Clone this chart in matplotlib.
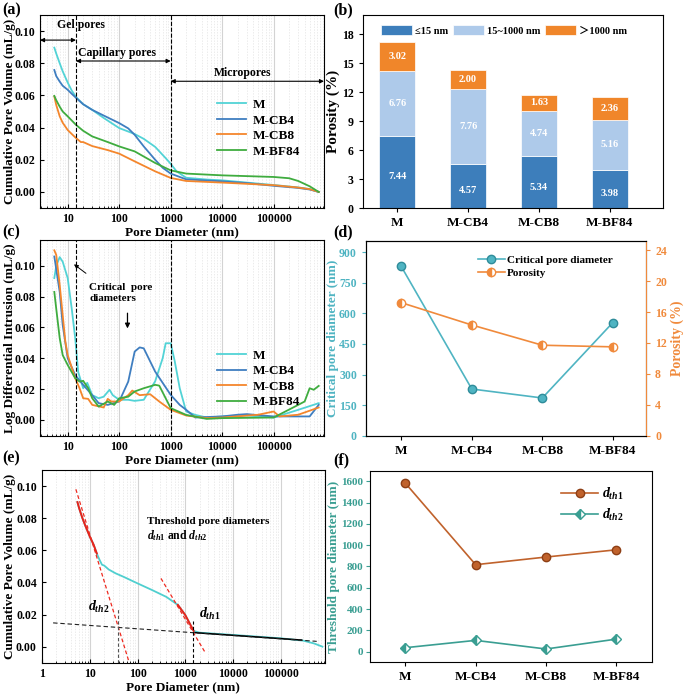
import numpy as np
import matplotlib.pyplot as plt
from matplotlib.ticker import FixedLocator, LogLocator, NullFormatter

plt.rcParams['font.family'] = ['Liberation Serif', 'Noto Sans CJK SC']
plt.rcParams['font.weight'] = 'bold'
plt.rcParams['axes.labelweight'] = 'bold'
plt.rcParams['mathtext.fontset'] = 'custom'
plt.rcParams['mathtext.it'] = 'Liberation Serif:italic:bold'
plt.rcParams['mathtext.rm'] = 'Liberation Serif:bold'
plt.rcParams['mathtext.bf'] = 'Liberation Serif:bold'

samples = ['M', 'M-CB4', 'M-CB8', 'M-BF84']

# (a) cumulative pore volume, mL/g
a_M_x = [5.5, 6, 7, 8, 10, 12, 14.5, 20, 30, 50, 100, 200, 300, 500, 800, 1000, 1300, 2000,
         5000, 10000, 30000, 100000, 300000, 500000, 750000]
a_M_y = [0.0897, 0.086, 0.080, 0.075, 0.068, 0.063, 0.059, 0.0545, 0.051, 0.046, 0.0397, 0.036,
         0.033, 0.028, 0.021, 0.0175, 0.0128, 0.0088, 0.0077, 0.0072, 0.0058, 0.0043, 0.0028, 0.0018, 0.0]
a_CB4_x = [5.5, 6, 7, 8, 10, 12, 14.5, 20, 30, 50, 100, 150, 200, 300, 500, 700, 1000, 2000,
           10000, 30000, 100000, 300000, 500000, 750000]
a_CB4_y = [0.0758, 0.072, 0.0686, 0.066, 0.0635, 0.061, 0.0585, 0.0545, 0.051, 0.0475, 0.0428, 0.0395,
           0.0355, 0.0283, 0.020, 0.015, 0.0114, 0.0078, 0.0066, 0.0055, 0.0038, 0.0025, 0.0015, 0.0]
a_CB8_x = [5.5, 6, 7, 8, 10, 12, 14.5, 18, 20, 30, 60, 100, 200, 500, 1000, 2000, 10000, 100000,
           300000, 500000, 750000]
a_CB8_y = [0.0593, 0.054, 0.047, 0.043, 0.0385, 0.036, 0.0335, 0.031, 0.031, 0.0285, 0.026, 0.0238,
           0.019, 0.0128, 0.0087, 0.0068, 0.0058, 0.0042, 0.0027, 0.0017, 0.0]
a_BF84_x = [5.5, 6, 7, 8, 10, 14.5, 20, 30, 60, 100, 200, 500, 1000, 2000, 10000, 100000, 200000,
            300000, 500000, 750000]
a_BF84_y = [0.0597, 0.057, 0.053, 0.050, 0.047, 0.0417, 0.038, 0.0345, 0.031, 0.0283, 0.0252, 0.018,
            0.0134, 0.0114, 0.0103, 0.0093, 0.0085, 0.0068, 0.0035, 0.0]

# (b) porosity fractions, %
por_small = [7.44, 4.57, 5.34, 3.98]
por_mid = [6.76, 7.76, 4.74, 5.16]
por_large = [3.02, 2.00, 1.63, 2.36]

# (c) log differential intrusion, mL/g
c_M_x = [5.5, 6, 7, 8, 10, 12, 14, 16, 20, 24, 30, 40, 50, 65, 75, 100, 150, 200, 300, 500, 700, 800,
         1000, 1200, 1500, 2000, 3000, 5000, 10000, 30000, 100000, 300000, 750000]
c_M_y = [0.092, 0.100, 0.1056, 0.1026, 0.092, 0.072, 0.053, 0.031, 0.0205, 0.024, 0.016, 0.014, 0.015,
         0.0195, 0.016, 0.013, 0.013, 0.0123, 0.013, 0.025, 0.040, 0.0497, 0.0497, 0.038, 0.0205, 0.0054,
         0.0032, 0.0015, 0.0022, 0.0028, 0.0015, 0.0065, 0.0108]
c_CB4_x = [5.5, 7, 8, 10, 14, 20, 30, 40, 60, 100, 150, 200, 250, 300, 500, 1000, 1500, 2000, 3000,
           10000, 20000, 30000, 100000, 500000, 750000]
c_CB4_y = [0.106, 0.083, 0.0616, 0.040, 0.029, 0.0227, 0.016, 0.0108, 0.0097, 0.0119, 0.0248, 0.0443,
           0.047, 0.0464, 0.0313, 0.0162, 0.0097, 0.0065, 0.0015, 0.0022, 0.0033, 0.0037, 0.0022, 0.0022, 0.0097]
c_CB8_x = [5.5, 6, 7, 8, 9, 10, 14, 17, 20, 25, 30, 50, 60, 70, 100, 150, 180, 250, 400, 600, 1000,
           2000, 5000, 10000, 50000, 100000, 130000, 300000, 750000]
c_CB8_y = [0.110, 0.107, 0.0875, 0.068, 0.0508, 0.042, 0.027, 0.0205, 0.014, 0.0136, 0.0097, 0.008,
           0.0136, 0.0119, 0.0119, 0.016, 0.019, 0.016, 0.0166, 0.0119, 0.0065, 0.0028, 0.0011, 0.0015,
           0.0033, 0.0054, 0.0022, 0.0033, 0.008]
c_BF84_x = [5.5, 6, 7, 8, 10, 14, 17, 20, 25, 30, 40, 60, 80, 100, 150, 200, 300, 500, 600, 1000,
            2000, 5000, 10000, 100000, 300000, 400000, 500000, 600000, 750000]
c_BF84_y = [0.083, 0.072, 0.053, 0.042, 0.0356, 0.027, 0.0248, 0.0253, 0.0205, 0.014, 0.0086, 0.0119,
            0.0097, 0.014, 0.015, 0.0184, 0.0205, 0.0227, 0.0222, 0.0076, 0.0032, 0.0006, 0.0011, 0.0015,
            0.0097, 0.0119, 0.0205, 0.0195, 0.022]

# (d) critical pore diameter (nm) and total porosity (%)
crit_d = [830, 229, 185, 555]
porosity = [17.22, 14.33, 11.71, 11.50]

# (e) threshold method on sample M
e_x = [5.5, 6, 7, 8, 10, 12, 14, 16, 18, 20, 25, 35, 50, 100, 200, 400, 700, 1000, 1500, 2000,
       10000, 100000, 300000, 500000, 750000]
e_y = [0.090, 0.086, 0.080, 0.0755, 0.0685, 0.0635, 0.058, 0.054, 0.051, 0.0505, 0.048, 0.0456,
       0.0436, 0.0394, 0.0353, 0.031, 0.026, 0.0197, 0.0098, 0.0087, 0.0073, 0.0052, 0.0037, 0.002, 0.0]
e_red_ranges = [(5.0, 14.0), (650, 1500)]
e_tan1_x, e_tan1_y = [5.1, 65], [0.098, -0.0087]
e_tan2_x, e_tan2_y = [310, 2540], [0.0425, -0.003]
e_base_x, e_base_y = [1.7, 570000], [0.0148, 0.0033]
e_fit_x, e_fit_y = [1600, 275000], [0.0087, 0.0041]
dth2_M, dth1_M = 39, 1480

# (f) threshold pore diameters, nm
dth1 = [1584, 817, 889, 957]
dth2 = [37, 106, 25, 118]

c_M, c_CB4, c_CB8, c_BF84 = '#52d3d6', '#3f7ec0', '#f4862c', '#3fac3f'
W, H = 685, 696
TICK = 8.5
fig = plt.figure(figsize=(W / 100, H / 100), dpi=100)


def rect(l, t, r, b):
    return [l / W, 1 - b / H, (r - l) / W, (b - t) / H]


def log_style(ax, xlim, ticks):
    ax.set_xscale('log')
    ax.set_xlim(*xlim)
    ax.xaxis.set_major_locator(FixedLocator(ticks))
    ax.set_xticklabels([str(t) for t in ticks])
    ax.xaxis.set_minor_locator(LogLocator(base=10, subs=np.arange(2, 10), numticks=20))
    ax.xaxis.set_minor_formatter(NullFormatter())
    ax.grid(True, which='major', axis='x', color='#d3d3d3', lw=0.8)
    ax.grid(True, which='minor', axis='x', color='#e3e3e3', lw=0.5, ls=(0, (2, 2)))
    ax.tick_params(which='both', direction='in', labelsize=TICK)
    ax.tick_params(which='major', length=3)
    ax.tick_params(which='minor', length=1.5)
    ax.set_xlabel('Pore Diameter (nm)', fontsize=9.5, labelpad=1)
    ax.set_axisbelow(True)


# ---------- (a)
ax = fig.add_axes(rect(40, 15, 324, 208))
log_style(ax, (2.9, 950000), [10, 100, 1000, 10000, 100000])
ax.plot(a_M_x, a_M_y, color=c_M, lw=1.3, label='M')
ax.plot(a_CB4_x, a_CB4_y, color=c_CB4, lw=1.3, label='M-CB4')
ax.plot(a_CB8_x, a_CB8_y, color=c_CB8, lw=1.3, label='M-CB8')
ax.plot(a_BF84_x, a_BF84_y, color=c_BF84, lw=1.3, label='M-BF84')
ax.set_ylim(-0.01, 0.11)
ax.set_yticks([0, 0.02, 0.04, 0.06, 0.08, 0.10])
ax.set_ylabel('Cumulative Pore Volume (mL/g)', fontsize=9.5)
ax.yaxis.set_label_coords(-0.0845, 0.5)
for xv in [14.5, 1000]:
    ax.axvline(xv, color='k', ls='--', lw=0.8)
arw = dict(arrowstyle='<|-|>', color='k', lw=0.8, mutation_scale=6, shrinkA=0, shrinkB=0)
ax.annotate('', xy=(2.9, 0.0944), xytext=(14.5, 0.0944), arrowprops=arw)
ax.annotate('', xy=(14.5, 0.0814), xytext=(1000, 0.0814), arrowprops=arw)
ax.annotate('', xy=(1000, 0.0688), xytext=(950000, 0.0688), arrowprops=arw)
ax.text(18, 0.1035, 'Gel pores', ha='center', va='center', fontsize=8.5)
ax.text(90, 0.0865, 'Capillary pores', ha='center', va='center', fontsize=8.5)
ax.text(24500, 0.0742, 'Micropores', ha='center', va='center', fontsize=8.5)
ax.legend(loc='upper left', bbox_to_anchor=(0.6, 0.6), frameon=False, fontsize=9.5,
          handlelength=2.2, labelspacing=0.25, handletextpad=0.5, borderpad=0)
fig.text(2 / W, 1 - 10 / H, '(a)', fontsize=11.5, va='center')

# ---------- (b)
ax = fig.add_axes(rect(362.7, 14.7, 663.3, 208))
xb = np.arange(len(samples))
col_s, col_m, col_l = '#3d7ebb', '#aecaea', '#f0862a'
bot2 = np.array(por_small) + np.array(por_mid)
ax.bar(xb, por_small, 0.51, color=col_s, edgecolor='white', lw=0.5, label='≤15 nm')
ax.bar(xb, por_mid, 0.51, bottom=por_small, color=col_m, edgecolor='white', lw=0.5, label='15~1000 nm')
ax.bar(xb, por_large, 0.51, bottom=bot2, color=col_l, edgecolor='white', lw=0.5, label='＞1000 nm')
for i in range(len(samples)):
    ax.text(xb[i], por_small[i] / 2 - 0.5, f'{por_small[i]:.2f}', ha='center', va='center', color='white', fontsize=7.5)
    ax.text(xb[i], por_small[i] + por_mid[i] / 2, f'{por_mid[i]:.2f}', ha='center', va='center', color='white', fontsize=7.5)
    ax.text(xb[i], bot2[i] + por_large[i] / 2, f'{por_large[i]:.2f}', ha='center', va='center', color='white', fontsize=7.5)
ax.set_xlim(-0.49, 3.76)
ax.set_ylim(0, 20)
ax.set_yticks([0, 3, 6, 9, 12, 15, 18])
ax.set_xticks(xb)
ax.set_xticklabels(samples, fontsize=9.5)
ax.tick_params(axis='y', labelsize=TICK, length=3)
ax.tick_params(axis='x', length=3)
ax.set_ylabel('Porosity (%)', fontsize=11)
ax.yaxis.set_label_coords(-0.077, 0.5)
ax.legend(loc='upper left', bbox_to_anchor=(0.03, 0.995), ncol=3, frameon=False, fontsize=7.5,
          handlelength=3.0, handleheight=1.1, columnspacing=0.4, handletextpad=0.3)
fig.text(333 / W, 1 - 10 / H, '(b)', fontsize=11.5, va='center')

# ---------- (c)
ax = fig.add_axes(rect(40, 240, 324, 436))
log_style(ax, (2.9, 950000), [10, 100, 1000, 10000, 100000])
ax.plot(c_M_x, c_M_y, color=c_M, lw=1.3, label='M')
ax.plot(c_CB4_x, c_CB4_y, color=c_CB4, lw=1.3, label='M-CB4')
ax.plot(c_CB8_x, c_CB8_y, color=c_CB8, lw=1.3, label='M-CB8')
ax.plot(c_BF84_x, c_BF84_y, color=c_BF84, lw=1.3, label='M-BF84')
ax.set_ylim(-0.0105, 0.1167)
ax.set_yticks([0, 0.02, 0.04, 0.06, 0.08, 0.10])
ax.set_ylabel('Log Differential Intrusion (mL/g)', fontsize=9.5)
ax.yaxis.set_label_coords(-0.0845, 0.5)
for xv in [14.5, 1000]:
    ax.axvline(xv, color='k', ls='--', lw=0.8)
ax.annotate('', xy=(12, 0.102), xytext=(25, 0.094),
            arrowprops=dict(arrowstyle='-|>', color='k', lw=0.7, mutation_scale=6))
ax.annotate('', xy=(145, 0.0575), xytext=(145, 0.071),
            arrowprops=dict(arrowstyle='-|>', color='k', lw=0.9, mutation_scale=7))
ax.text(26, 0.0825, 'Critical  pore\ndiameters', ha='left', va='center', fontsize=8, linespacing=1.3)
ax.legend(loc='upper left', bbox_to_anchor=(0.6, 0.475), frameon=False, fontsize=9.5,
          handlelength=2.2, labelspacing=0.25, handletextpad=0.5, borderpad=0)
fig.text(2 / W, 1 - 232 / H, '(c)', fontsize=11.5, va='center')

# ---------- (d)
t_teal, t_or = '#4fb4c2', '#f08a3c'
ax = fig.add_axes(rect(366, 241, 646, 435.7))
ax2 = ax.twinx()
l1, = ax.plot(xb, crit_d, color=t_teal, lw=1.2, marker='o', ms=6, mfc=t_teal, mec='#2f8c9a',
              label='Critical pore diameter')
l2, = ax2.plot(xb, porosity, color=t_or, lw=1.2, marker='o', ms=6, fillstyle='left', mfc=t_or,
               mfcalt='white', mec=t_or, label='Porosity')
ax.set_xlim(-0.5, 3.47)
ax.set_ylim(0, 955)
ax.set_yticks([0, 150, 300, 450, 600, 750, 900])
ax2.set_ylim(0, 25.2)
ax2.set_yticks([0, 4, 8, 12, 16, 20, 24])
ax.set_xticks(xb)
ax.set_xticklabels(samples, fontsize=9.5)
ax.tick_params(axis='y', labelsize=TICK, colors=t_teal, length=3)
ax.tick_params(axis='x', length=3)
ax2.tick_params(axis='y', labelsize=TICK, colors=t_or, length=3)
ax2.spines['right'].set_color(t_or)
ax.set_ylabel('Critical pore diameter (nm)', fontsize=9.5, color=t_teal)
ax.yaxis.set_label_coords(-0.096, 0.5)
ax2.set_ylabel('Porosity (%)', fontsize=10, color=t_or)
ax2.yaxis.set_label_coords(1.087, 0.5)
ax.legend(handles=[l1, l2], loc='upper left', bbox_to_anchor=(0.38, 0.955), frameon=False,
          fontsize=8, handlelength=2.4, labelspacing=0.25, handletextpad=0.2, borderpad=0)
fig.text(333 / W, 1 - 232 / H, '(d)', fontsize=11.5, va='center')

# ---------- (e)
ax = fig.add_axes(rect(41.7, 470, 325, 662.7))
log_style(ax, (0.98, 850000), [1, 10, 100, 1000, 10000, 100000])
ex, ey = np.array(e_x), np.array(e_y)
ax.plot(ex, ey, color='#4fcfcf', lw=1.3)
for lo, hi in e_red_ranges:
    m = (ex >= lo) & (ex <= hi)
    ax.plot(ex[m], ey[m], color='#e8231b', lw=1.4)
ax.plot(e_fit_x, e_fit_y, color='k', lw=1.1)
ax.plot(e_tan1_x, e_tan1_y, color='#ee2a20', lw=0.9, ls=(0, (3, 2)))
ax.plot(e_tan2_x, e_tan2_y, color='#ee2a20', lw=0.9, ls=(0, (3, 2)))
ax.plot(e_base_x, e_base_y, color='#222222', lw=0.8, ls=(0, (4, 2.5)))
ax.plot([dth2_M, dth2_M], [-0.01, 0.0232], color='#555555', lw=0.8, ls=(0, (3, 2)))
ax.plot([dth1_M, dth1_M], [-0.01, 0.016], color='k', lw=0.8, ls=(0, (3, 2)))
ax.set_ylim(-0.01, 0.11)
ax.set_yticks([0, 0.02, 0.04, 0.06, 0.08, 0.10])
ax.set_ylabel('Cumulative Pore Volume (mL/g)', fontsize=9.5)
ax.yaxis.set_label_coords(-0.091, 0.5)
ax.text(9.2, 0.0245, '$d_{th2}$', fontsize=10, ha='left', va='center')
ax.text(1900, 0.0205, '$d_{th1}$', fontsize=10, ha='left', va='center')
ax.text(160, 0.078, 'Threshold pore diameters', fontsize=8, ha='left', va='center')
ax.text(160, 0.069, '$d_{th1}$ and $d_{th2}$', fontsize=8.5, ha='left', va='center')
fig.text(2 / W, 1 - 458 / H, '(e)', fontsize=11.5, va='center')

# ---------- (f)
f_teal, f_br = '#3a9e92', '#c0622c'
ax = fig.add_axes(rect(370, 470.7, 651.7, 662.3))
ax.plot(xb, dth1, color=f_br, lw=1.2, marker='o', ms=6, mfc=f_br, mec='#8e3f15', label='$d_{th1}$')
ax.plot(xb, dth2, color=f_teal, lw=1.2, marker='D', ms=5.5, fillstyle='left', mfc=f_teal,
        mfcalt='white', mec=f_teal, label='$d_{th2}$')
ax.set_xlim(-0.5, 3.5)
ax.set_ylim(-100, 1700)
ax.set_yticks(np.arange(0, 1601, 200))
ax.set_xticks(xb)
ax.set_xticklabels(samples, fontsize=9.5)
ax.tick_params(axis='y', labelsize=8, colors=f_teal, length=3, pad=2)
ax.tick_params(axis='x', length=3)
ax.set_ylabel('Threshold pore diameter (nm)', fontsize=9.5, color=f_teal)
ax.yaxis.set_label_coords(-0.105, 0.5)
ax.legend(loc='upper left', bbox_to_anchor=(0.655, 0.955), frameon=False, fontsize=10,
          handlelength=2.6, labelspacing=0.35, handletextpad=0.3, borderpad=0)
fig.text(333 / W, 1 - 460 / H, '(f)', fontsize=11.5, va='center')

fig.savefig('out.png', dpi=100)
